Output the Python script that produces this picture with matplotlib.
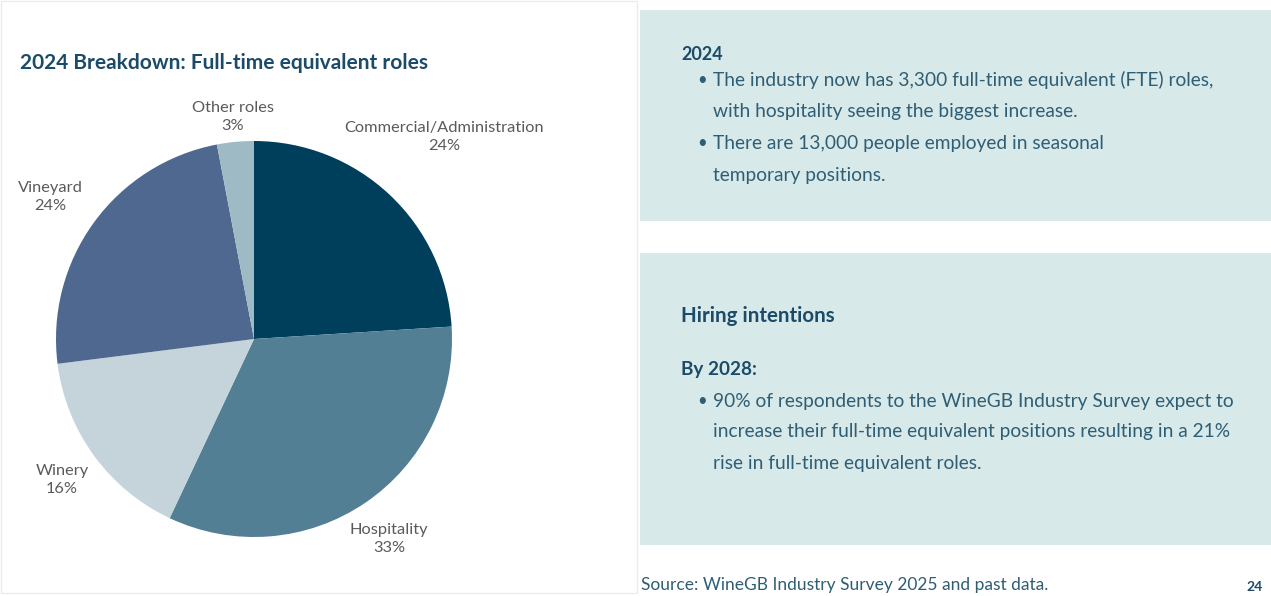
import matplotlib.pyplot as plt
from matplotlib.patches import Rectangle

# pie data (2024 FTE breakdown)
roles = ["Commercial/Administration", "Hospitality", "Winery", "Vineyard", "Other roles"]
shares = [24, 33, 16, 24, 3]
colors = ["#003f5c", "#537f95", "#c4d4da", "#4f6890", "#9ebac4"]
# label anchor points, pixel coords from top-left
label_xy = [(444, 137), (389, 539), (62, 480), (50, 197), (233, 117)]

W, H = 1271, 596
TITLE_C = "#1b4b68"
BODY_C = "#2f5e74"
plt.rcParams['font.family'] = ['Lato', 'DejaVu Sans']

fig = plt.figure(figsize=(W / 100, H / 100), dpi=100)
bg = fig.add_axes([0, 0, 1, 1])
bg.set_xlim(0, W)
bg.set_ylim(H, 0)
bg.axis("off")

# faint frame round the chart panel, shaded boxes on the right
bg.add_patch(Rectangle((1, 1), 636, 592, fill=False, ec="#ececec", lw=1))
bg.add_patch(Rectangle((640, 10), W - 640, 211, color="#d8e9ea", lw=0))
bg.add_patch(Rectangle((640, 253), W - 640, 292, color="#d8e9ea", lw=0))

bg.text(20, 63, "2024 Breakdown: Full-time equivalent roles", fontsize=15,
        fontweight="bold", color=TITLE_C, va="center")

# pie
cx, cy, r = 254, 339, 198
pax = fig.add_axes([(cx - r) / W, (H - cy - r) / H, 2 * r / W, 2 * r / H])
pax.pie(shares, colors=colors, startangle=90, counterclock=False, radius=1,
        wedgeprops=dict(linewidth=0))
pax.set_xlim(-1, 1)
pax.set_ylim(-1, 1)
pax.set_aspect("auto")
pax.axis("off")

for name, val, (x, y) in zip(roles, shares, label_xy):
    bg.text(x, y, f"{name}\n{val}%", ha="center", va="center", fontsize=11.8,
            color="#5a5a5a", linespacing=1.3)

# top box
bg.text(681, 54, "2024", fontsize=13, fontweight="bold", color=TITLE_C, va="center")
top_lines = [(80, True, "The industry now has 3,300 full-time equivalent (FTE) roles,"),
             (111, False, "with hospitality seeing the biggest increase."),
             (143, True, "There are 13,000 people employed in seasonal"),
             (175, False, "temporary positions.")]
for y, bullet, txt in top_lines:
    if bullet:
        bg.text(697, y, "•", fontsize=12, color=BODY_C, va="center")
    bg.text(713, y, txt, fontsize=13.8, color=BODY_C, va="center")

# hiring box
bg.text(681, 316, "Hiring intentions", fontsize=14.8, fontweight="bold", color=TITLE_C, va="center")
bg.text(681, 369, "By 2028:", fontsize=13.6, fontweight="bold", color=TITLE_C, va="center")
hire_lines = [(401, True, "90% of respondents to the WineGB Industry Survey expect to"),
              (432, False, "increase their full-time equivalent positions resulting in a 21%"),
              (464, False, "rise in full-time equivalent roles.")]
for y, bullet, txt in hire_lines:
    if bullet:
        bg.text(697, y, "•", fontsize=12, color=BODY_C, va="center")
    bg.text(713, y, txt, fontsize=13.8, color=BODY_C, va="center")

bg.text(641, 585, "Source: WineGB Industry Survey 2025 and past data.", fontsize=12.5,
        color=BODY_C, va="center")
bg.text(1246, 593, "24", fontsize=10, fontweight="bold", color=TITLE_C, va="bottom")

fig.savefig("out.png", dpi=100)
